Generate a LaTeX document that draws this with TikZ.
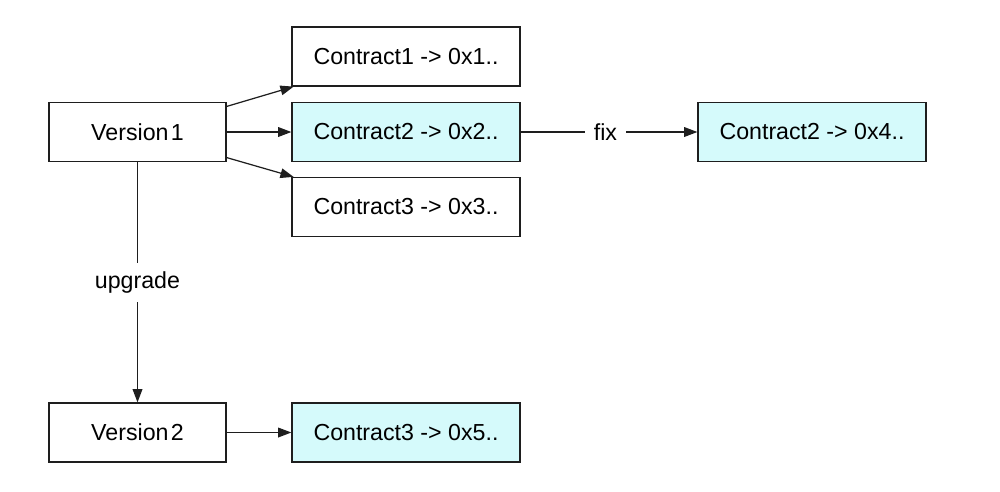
\documentclass[tikz,border=0pt]{standalone}
\usepackage{fontspec}
\setmainfont{Liberation Sans}
\usetikzlibrary{arrows.meta}
\definecolor{boxcyan}{RGB}{213,250,251}
\definecolor{edge}{RGB}{30,30,30}
\begin{document}
\begin{tikzpicture}[x=0.02cm,y=-0.02cm,
  box/.style={draw=edge,line width=0.7pt,minimum height=59*0.02cm,inner sep=0pt,font=\fontsize{13.2pt}{15pt}\selectfont},
  vbox/.style={box,minimum width=177*0.02cm},
  cbox/.style={box,minimum width=228*0.02cm},
  hl/.style={fill=boxcyan},
  conn/.style={draw=edge,line width=0.7pt,-{Triangle[length=7.5pt,width=5.5pt]}},
  lbl/.style={fill=white,font=\fontsize{13.2pt}{15pt}\selectfont,inner xsep=5pt,inner ysep=5pt}]
\useasboundingbox (0,0) rectangle (1000,491);
\node[vbox] (v1) at (137.5,132) {Version\hspace{-0.18em} 1};
\node[cbox] (c1) at (406,56.5) {Contract1 -> 0x1..};
\node[cbox,hl] (c2) at (406,132) {Contract2 -> 0x2..};
\node[cbox] (c3) at (406,207) {Contract3 -> 0x3..};
\node[cbox,hl] (c4) at (812,132) {Contract2 -> 0x4..};
\node[vbox] (v2) at (137.5,432.5) {Version\hspace{-0.18em} 2};
\node[cbox,hl] (c5) at (406,432.5) {Contract3 -> 0x5..};
\draw[conn] (v1.16) -- (c1.195);
\draw[conn] (v1.east) -- (c2.west);
\draw[conn] (v1.-16) -- (c3.165);
\draw[conn] (c2.east) -- node[lbl,pos=0.48] (fix) {fix} (c4.west);
\draw[conn] (v1.south) -- node[lbl] (up) {upgrade} (v2.north);
\draw[conn] (v2.east) -- (c5.west);
\end{tikzpicture}
\end{document}
